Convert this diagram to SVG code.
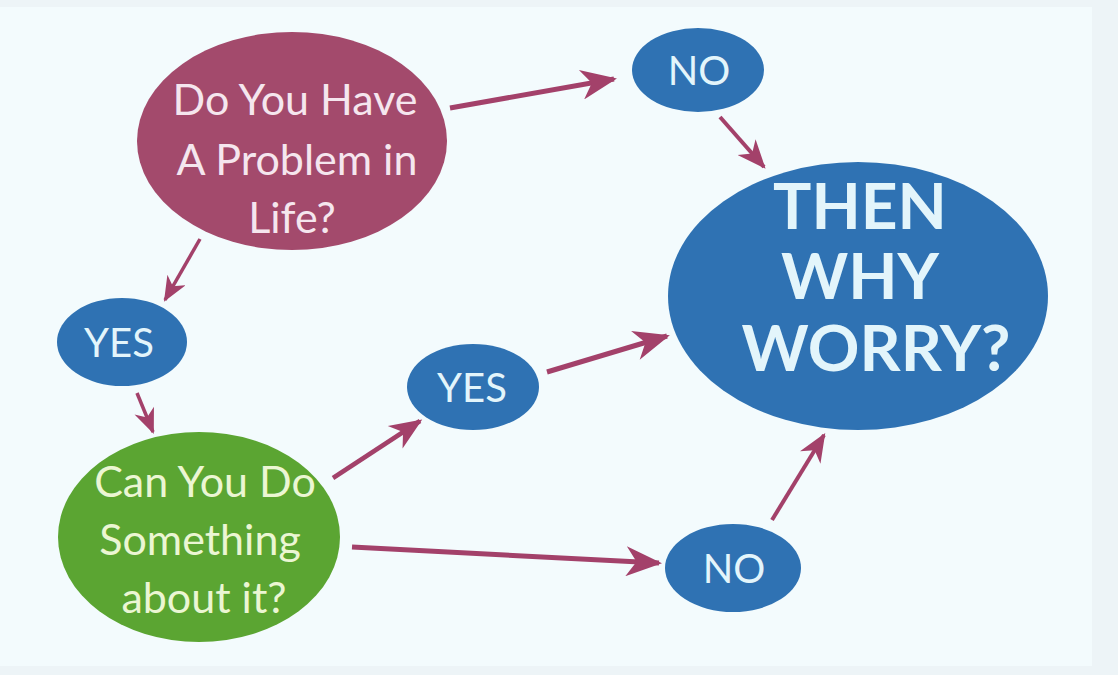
<svg xmlns="http://www.w3.org/2000/svg" width="1118" height="675" viewBox="0 0 1118 675">
<defs>
<style>
.t{font-family:Lato,"Open Sans","Liberation Sans",sans-serif;text-anchor:middle}
.blue{fill:#2f72b3}
.wt{fill:#e3f5fb}
.arr{stroke:#a3416a;fill:none;stroke-linecap:butt}
</style>
<marker id="ah" viewBox="0 0 12 10" refX="11" refY="5" markerWidth="7.5" markerHeight="6" orient="auto" markerUnits="strokeWidth">
<path d="M0,0 L12,5 L0,10 L3.5,5 z" fill="#a3416a"/>
</marker>
</defs>
<rect x="0" y="0" width="1118" height="675" fill="#edf4f7"/>
<rect x="0" y="7" width="1092" height="659" fill="#f3fbfd"/>
<g id="connectors">
<line class="arr" x1="450" y1="108" x2="614" y2="79" stroke-width="5" marker-end="url(#ah)"/>
<line class="arr" x1="720" y1="117" x2="764" y2="167" stroke-width="4" marker-end="url(#ah)"/>
<line class="arr" x1="200" y1="239" x2="165" y2="300" stroke-width="3.5" marker-end="url(#ah)"/>
<line class="arr" x1="137" y1="393" x2="153" y2="432" stroke-width="3.5" marker-end="url(#ah)"/>
<line class="arr" x1="333" y1="478" x2="420" y2="421" stroke-width="4.5" marker-end="url(#ah)"/>
<line class="arr" x1="547" y1="372" x2="667" y2="336" stroke-width="5" marker-end="url(#ah)"/>
<line class="arr" x1="352" y1="547" x2="659" y2="563" stroke-width="5" marker-end="url(#ah)"/>
<line class="arr" x1="772" y1="520" x2="824" y2="435" stroke-width="4" marker-end="url(#ah)"/>
</g>
<g id="problem">
<ellipse cx="292" cy="141" rx="155" ry="109" fill="#a34a6c"/>
<text class="t" fill="#f5e6ee" font-size="43"><tspan x="295" y="115">Do You Have</tspan><tspan x="297" y="175">A Problem in</tspan><tspan x="292" y="233">Life?</tspan></text>
</g>
<g id="no-top">
<ellipse class="blue" cx="698" cy="70" rx="66" ry="42"/>
<text class="t wt" x="699" y="85" font-size="40">NO</text>
</g>
<g id="worry">
<ellipse class="blue" cx="858" cy="296" rx="190" ry="134"/>
<text class="t wt" font-size="64" font-weight="bold"><tspan x="860" y="229">THEN</tspan><tspan x="860" y="299">WHY</tspan><tspan x="876" y="371">WORRY?</tspan></text>
</g>
<g id="yes-left">
<ellipse class="blue" cx="122" cy="342" rx="65" ry="44"/>
<text class="t wt" x="119" y="357" font-size="40">YES</text>
</g>
<g id="can-you">
<ellipse cx="199" cy="537" rx="141" ry="105" fill="#5ba532"/>
<text class="t" fill="#ebf6d3" font-size="43"><tspan x="205" y="497">Can You Do</tspan><tspan x="200" y="555">Something</tspan><tspan x="204" y="613">about it?</tspan></text>
</g>
<g id="yes-mid">
<ellipse class="blue" cx="473" cy="387" rx="66" ry="43"/>
<text class="t wt" x="472" y="402" font-size="40">YES</text>
</g>
<g id="no-bottom">
<ellipse class="blue" cx="733" cy="568" rx="68" ry="44"/>
<text class="t wt" x="734" y="583" font-size="40">NO</text>
</g>
</svg>
